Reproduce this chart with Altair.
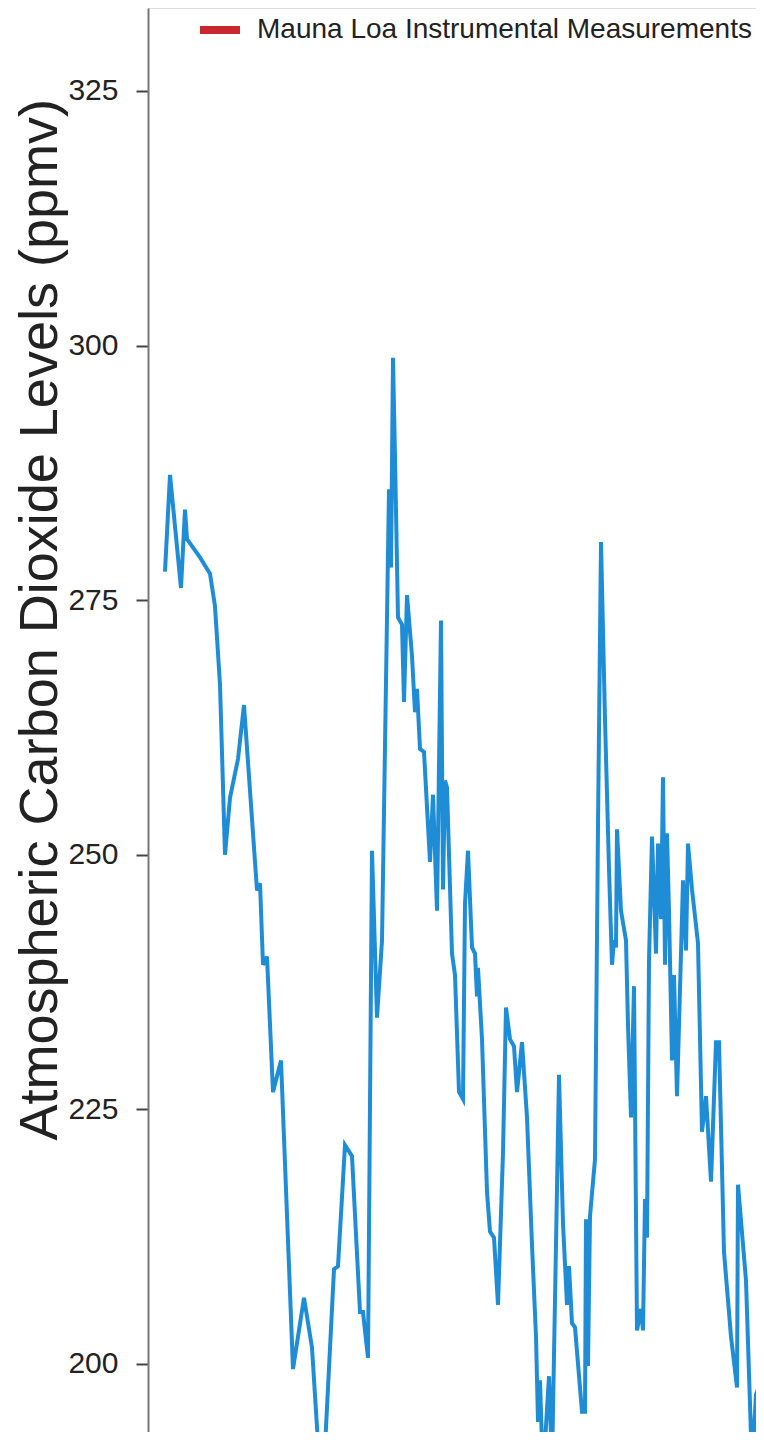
import altair as alt
import pandas as pd

# Age in thousand years before present (older on the left), CO2 in ppmv
age_kyr = [417.0, 415.0, 410.6, 409.0, 408.2, 403.0, 399.0, 397.0, 395.0, 393.0,
           391.0, 387.8, 385.4, 380.2, 379.0, 377.8, 376.2, 373.8, 370.6, 365.8,
           361.4, 358.2, 354.2, 349.4, 347.8, 345.0, 342.2, 339.0, 337.8, 335.8,
           334.2, 332.2, 330.2, 327.4, 326.6, 325.8, 325.0, 323.8, 322.2, 321.4,
           320.2, 318.2, 317.0, 316.2, 315.0, 313.4, 311.0, 309.8, 308.2, 306.6,
           305.8, 305.0, 304.2, 302.2, 301.0, 299.4, 297.8, 297.0, 295.8, 294.2,
           293.0, 292.2, 291.8, 290.2, 288.2, 287.0, 285.4, 283.8, 281.8, 280.6,
           279.0, 277.4, 276.2, 274.2, 272.2, 270.2, 268.6, 267.8, 267.0, 265.8,
           263.4, 262.2, 260.6, 259.4, 257.8, 256.2, 255.4, 254.2, 253.0, 250.2,
           249.0, 248.6, 247.8, 247.0, 245.0, 243.8, 242.6, 241.0, 239.4, 238.2,
           237.4, 236.6, 236.2, 234.6, 232.6, 231.8, 230.6, 229.4, 228.2, 226.6,
           225.8, 225.0, 224.2, 223.4, 222.2, 220.6, 219.8, 218.6, 217.8, 217.0,
           216.2, 215.4, 214.2, 213.4, 212.2, 210.6, 209.8, 208.6, 207.8, 206.2,
           203.8, 202.2, 200.6, 198.6, 196.6, 195.4, 193.4, 190.6, 188.2, 187.8,
           184.6, 182.2, 180.6, 178.6, 177.4]

co2_ppmv = [277.8, 287.3, 276.2, 283.9, 281.0, 279.2, 277.6, 274.4, 266.7, 250.0,
            255.6, 259.4, 264.7, 246.5, 247.2, 239.2, 240.0, 226.7, 229.8, 199.5,
            206.5, 201.6, 186.0, 209.3, 209.6, 221.5, 220.4, 205.1, 205.1, 200.6,
            250.4, 234.0, 241.6, 285.9, 278.2, 298.8, 289.1, 273.3, 272.6, 265.0,
            275.5, 269.5, 264.0, 266.3, 260.4, 260.1, 249.3, 255.9, 244.5, 273.0,
            246.6, 257.3, 256.6, 240.3, 238.2, 226.7, 226.0, 245.2, 250.4, 240.9,
            240.3, 236.1, 238.9, 231.9, 216.9, 213.0, 212.4, 205.8, 220.8, 235.0,
            231.9, 231.2, 226.7, 231.6, 224.2, 211.7, 202.7, 194.3, 198.4, 189.0,
            198.8, 190.0, 211.7, 228.4, 213.8, 205.8, 209.6, 204.0, 203.6, 195.3,
            195.3, 214.2, 199.8, 214.5, 220.1, 252.8, 280.7, 263.3, 248.6, 239.2,
            241.6, 240.9, 252.5, 244.5, 241.6, 233.3, 224.2, 237.1, 203.3, 205.4,
            203.3, 216.2, 212.4, 239.6, 251.8, 240.3, 251.1, 243.7, 257.6, 239.2,
            252.1, 244.5, 229.8, 238.2, 226.3, 240.3, 247.5, 240.6, 251.1, 246.6,
            241.3, 222.8, 226.3, 217.9, 231.6, 231.6, 211.0, 202.7, 197.7, 217.6,
            208.2, 190.0, 197.0, 198.4, 198.4]

series_names = ["Vostok Ice Core", "Mauna Loa Instrumental Measurements"]
series_colors = ["#1f8dd6", "#c8282d"]
legend_shown = ["Mauna Loa Instrumental Measurements"]
y_ticks = [200, 225, 250, 275, 300, 325]

df = pd.DataFrame({
    "age": age_kyr,
    "co2": co2_ppmv,
    "series": [series_names[0]] * len(age_kyr),
})

font = "Liberation Sans, Arial, Helvetica, sans-serif"

chart = alt.Chart(df).mark_line(strokeWidth=4, clip=True).encode(
    x=alt.X("age:Q", scale=alt.Scale(domain=[423.8, 180.6], nice=False, zero=False), axis=None),
    y=alt.Y(
        "co2:Q",
        scale=alt.Scale(domain=[193.32, 333.15], nice=False, zero=False),
        axis=alt.Axis(
            values=y_ticks,
            grid=False,
            title="Atmospheric Carbon Dioxide Levels (ppmv)",
            titleFont=font,
            titleFontSize=54,
            titleFontWeight="normal",
            titleColor="#222222",
            titleAngle=270,
            titleAlign="left",
            titleBaseline="top",
            titleX=-135,
            titleY=1132,
            labelFont=font,
            labelFontSize=30,
            labelColor="#222222",
            labelPadding=18,
            tickSize=12,
            tickWidth=2,
            tickColor="#444444",
            domainColor="#777777",
            domainWidth=2,
        ),
    ),
    color=alt.Color(
        "series:N",
        scale=alt.Scale(domain=series_names, range=series_colors),
        legend=alt.Legend(
            values=legend_shown,
            title=None,
            orient="none",
            legendX=48,
            legendY=-2,
            padding=0,
            symbolType="stroke",
            symbolSize=1600,
            symbolStrokeWidth=8,
            labelFont=font,
            labelFontSize=28,
            labelColor="#222222",
            labelLimit=2000,
            labelOffset=13,
        ),
    ),
).properties(
    width=608,
    height=1424,
    padding={"left": 140, "top": 0, "right": 0, "bottom": 0},
    autosize=alt.AutoSizeParams(type="none"),
).configure_view(stroke=None).configure(background="white")

chart.save("out.html", embed_options={"renderer": "svg", "actions": False})
